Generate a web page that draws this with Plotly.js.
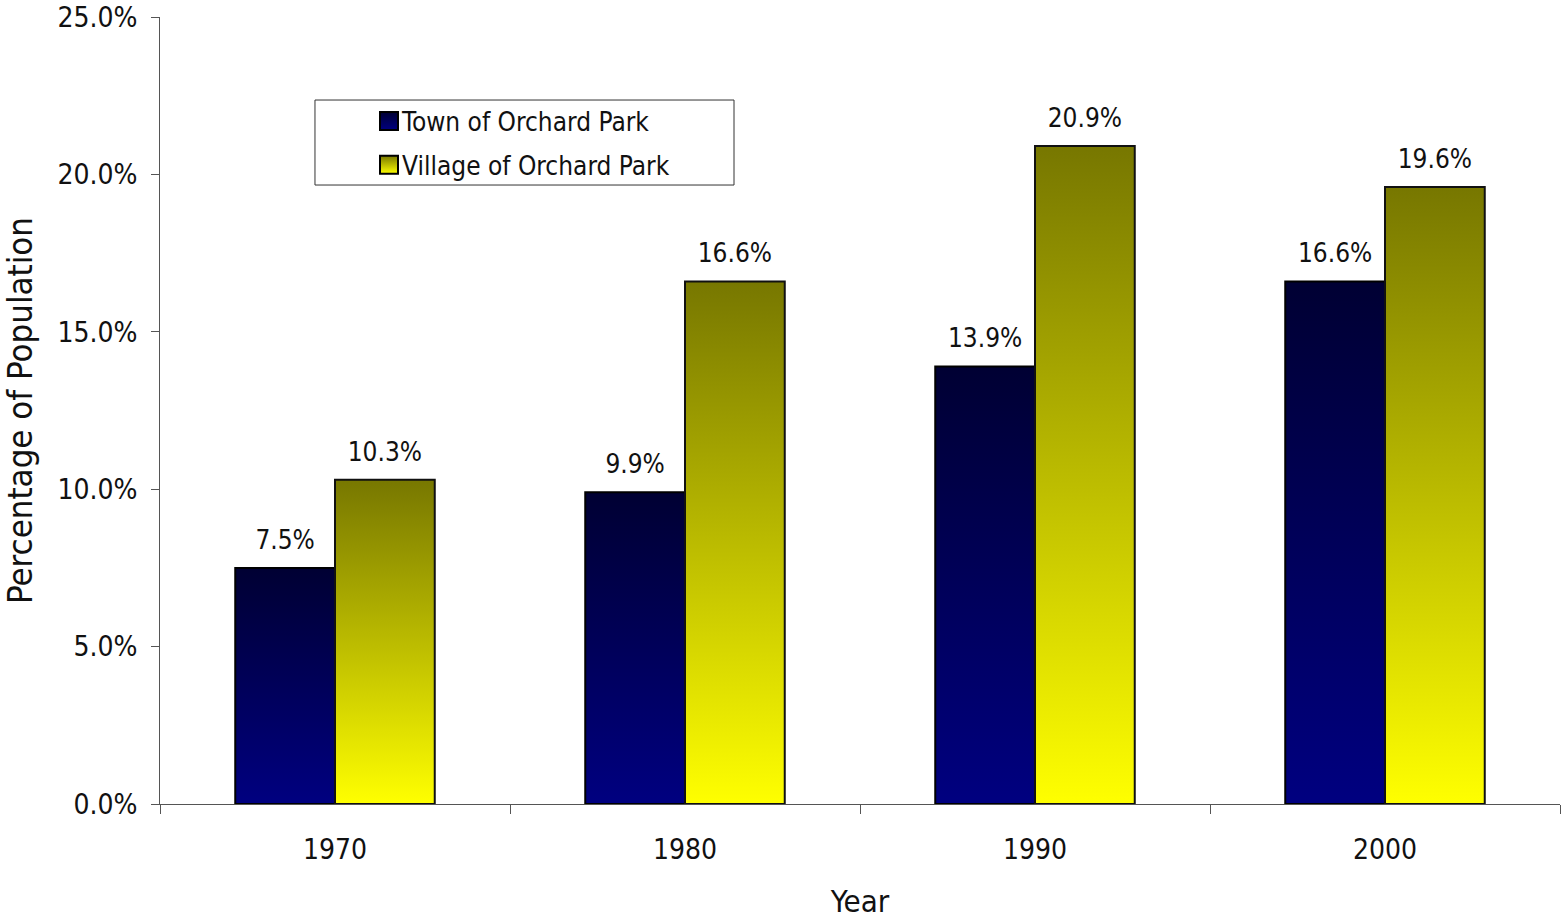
<!DOCTYPE html>
<html>
<head>
<meta charset="utf-8">
<script src="https://cdn.plot.ly/plotly-3.0.1.min.js"></script>
<style>html,body{margin:0;padding:0;background:#fff;}#chart{width:1564px;height:919px;}</style>
</head>
<body>
<div id="chart"></div>
<script>
const years = ['1970', '1980', '1990', '2000'];
const townValues = [0.075, 0.099, 0.139, 0.166];
const villageValues = [0.103, 0.166, 0.209, 0.196];
const seriesNames = ['Town of Orchard Park', 'Village of Orchard Park'];

const FONT = 'DejaVu Sans Condensed, Open Sans, sans-serif';

const traces = [
  {
    type: 'bar', name: seriesNames[0], x: years, y: townValues,
    legendgroup: 'a',
    marker: {color: '#000080', line: {color: '#000000', width: 2}},
    texttemplate: '%{y:.1%}', textposition: 'outside', cliponaxis: false,
    textfont: {family: FONT, size: 26, color: '#111111'}
  },
  {
    type: 'bar', name: seriesNames[1], x: years, y: villageValues,
    legendgroup: 'b',
    marker: {color: '#ffff00', line: {color: '#111111', width: 2}},
    texttemplate: '%{y:.1%}', textposition: 'outside', cliponaxis: false,
    textfont: {family: FONT, size: 26, color: '#111111'}
  }
];

const layout = {
  width: 1564, height: 919,
  margin: {l: 160, r: 4, t: 17, b: 115},
  paper_bgcolor: '#ffffff', plot_bgcolor: '#ffffff',
  font: {family: FONT, color: '#111111', size: 26},
  barmode: 'group', bargap: 0.43, bargroupgap: 0,
  showlegend: true,
  legend: {
    x: 0.1443, y: 0.8977, xanchor: 'left', yanchor: 'top',
    bgcolor: 'rgba(0,0,0,0)', borderwidth: 0,
    font: {family: FONT, size: 26, color: '#111111'},
    traceorder: 'grouped', tracegroupgap: 7
  },
  shapes: [{
    type: 'rect', xref: 'paper', yref: 'paper',
    x0: 0.1107, x1: 0.41, y0: 0.7865, y1: 0.8945,
    line: {color: '#333333', width: 1}, fillcolor: 'rgba(0,0,0,0)', layer: 'below'
  }],
  xaxis: {
    type: 'category', tickson: 'boundaries',
    ticks: 'outside', ticklen: 9, tickcolor: '#555555',
    ticklabelstandoff: 20,
    showline: true, linecolor: '#555555', linewidth: 1,
    showgrid: false, zeroline: false,
    tickfont: {family: FONT, size: 28, color: '#111111'},
    title: {text: 'Year', font: {family: FONT, size: 31, color: '#111111'}, standoff: 34}
  },
  yaxis: {
    range: [0, 0.25001], dtick: 0.05, tick0: 0, tickformat: '.1%',
    ticks: 'outside', ticklen: 8, tickcolor: '#555555',
    ticklabelstandoff: 8,
    showline: true, linecolor: '#555555', linewidth: 1,
    showgrid: false, zeroline: false,
    tickfont: {family: FONT, size: 28, color: '#111111'},
    title: {text: 'Percentage of Population', font: {family: FONT, size: 34.5, color: '#111111'}, standoff: 23}
  }
};

function applyGradients(gd) {
  const svg = gd.querySelector('svg.main-svg');
  const ns = 'http://www.w3.org/2000/svg';
  let defs = svg.querySelector('defs');
  if (!defs) { defs = document.createElementNS(ns, 'defs'); svg.insertBefore(defs, svg.firstChild); }
  const grads = [
    {id: 'gradTown', top: '#000033', bottom: '#000080'},
    {id: 'gradVillage', top: '#777700', bottom: '#ffff00'}
  ];
  grads.forEach(g => {
    if (document.getElementById(g.id)) return;
    const lg = document.createElementNS(ns, 'linearGradient');
    lg.setAttribute('id', g.id);
    lg.setAttribute('x1', '0'); lg.setAttribute('y1', '0');
    lg.setAttribute('x2', '0'); lg.setAttribute('y2', '1');
    const s1 = document.createElementNS(ns, 'stop');
    s1.setAttribute('offset', '0'); s1.setAttribute('stop-color', g.top);
    const s2 = document.createElementNS(ns, 'stop');
    s2.setAttribute('offset', '1'); s2.setAttribute('stop-color', g.bottom);
    lg.appendChild(s1); lg.appendChild(s2);
    defs.appendChild(lg);
  });
  const barTraces = gd.querySelectorAll('.barlayer .trace');
  barTraces.forEach((t, i) => {
    t.querySelectorAll('path').forEach(p => { p.style.fill = 'url(#' + grads[i].id + ')'; });
    t.querySelectorAll('text.bartext').forEach(b => {
      const prev = b.getAttribute('transform') || '';
      b.setAttribute('transform', 'translate(0,-10) ' + prev);
    });
  });
  const legendTraces = gd.querySelectorAll('.legend .traces');
  legendTraces.forEach((t, i) => {
    t.querySelectorAll('.legendpoints path').forEach(p => {
      p.setAttribute('d', 'M16,9H-2V-9H16Z');
      p.style.fill = 'url(#' + grads[i].id + ')';
      p.style.stroke = '#000000';
      p.style.strokeWidth = '2px';
    });
  });
}

Plotly.newPlot('chart', traces, layout, {displayModeBar: false, staticPlot: true}).then(applyGradients);
</script>
</body>
</html>
